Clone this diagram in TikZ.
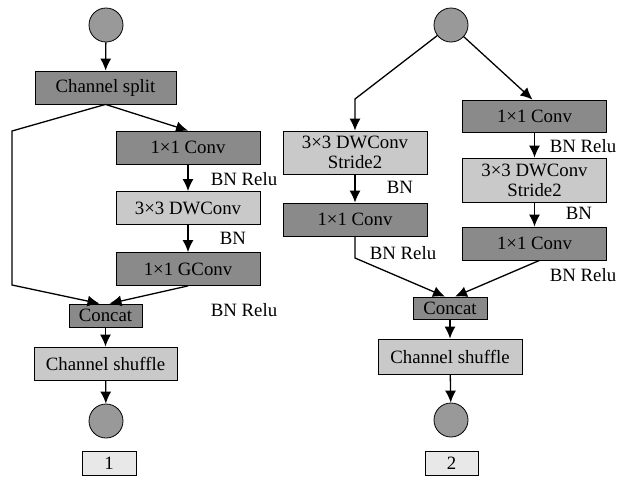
\documentclass[tikz,border=0pt]{standalone}
\usepackage{fontspec}
\setmainfont{Liberation Serif}
\usetikzlibrary{arrows.meta}
\definecolor{darkfill}{gray}{0.54}
\definecolor{lightfill}{gray}{0.79}
\definecolor{dotfill}{gray}{0.60}
\definecolor{tagfill}{gray}{0.91}
\tikzset{
  base/.style={draw=black, line width=0.8pt, inner sep=0pt, align=center,
    font=\rmfamily\fontsize{18.8}{20}\selectfont},
  darkbox/.style={base, fill=darkfill, minimum width=144pt, minimum height=33pt},
  lightbox/.style={base, fill=lightfill, minimum width=144pt, minimum height=33pt},
  tallbox/.style={lightbox, minimum height=44pt},
  catbox/.style={base, fill=darkfill, minimum width=74pt, minimum height=23pt},
  tagbox/.style={base, fill=tagfill, minimum width=54pt, minimum height=24pt},
  dot/.style={circle, draw=black, line width=0.8pt, fill=dotfill, minimum size=34pt, inner sep=0pt},
  note/.style={inner sep=0pt, font=\rmfamily\fontsize{18.8}{20}\selectfont},
  arr/.style={-{Latex[length=12pt,width=11pt]}, line width=1.3pt}
}
\begin{document}
\begin{tikzpicture}[x=1pt, y=-1pt]
\useasboundingbox (0,0) rectangle (628,477);

% ---- block 1 ----
\node[dot] (in1) at (106,25) {};
\node[darkbox, minimum width=141pt] (split) at (105.5,87.5) {Channel split};
\node[darkbox] (c1a) at (188,147.5) {1×1 Conv};
\node[lightbox] (dw1) at (188,208) {3×3 DWConv};
\node[darkbox] (gc1) at (188,269) {1×1 GConv};
\node[catbox, minimum width=73pt] (cat1) at (105.5,315.5) {Concat};
\node[lightbox, minimum width=143pt] (sh1) at (105.5,363.5) {Channel shuffle};
\node[dot] (out1) at (106,421) {};
\node[tagbox] (tag1) at (109,463) {1};

\node[note] (n1a) at (244,179) {BN Relu};
\node[note] (n1b) at (233,238) {BN};
\node[note] (n1c) at (244,310) {BN Relu};

\coordinate (b1) at (12,131);
\coordinate (b2) at (12,285);

\draw[arr] (in1) -- (split);
\draw[arr] (split.south) -- (c1a.north);
\draw[arr] (split.south) -- (b1) -- (b2) -- ([xshift=-6pt]cat1.north);
\draw[arr] (c1a) -- (dw1);
\draw[arr] (dw1) -- (gc1);
\draw[arr] (gc1.south) -- ([xshift=4pt]cat1.north);
\draw[arr] (cat1) -- (sh1);
\draw[arr] (sh1) -- (out1);

% ---- block 2 ----
\node[dot] (in2) at (451,25) {};
\node[tallbox, minimum height=43pt] (dw2l) at (355,152.5) {3×3 DWConv\\Stride2};
\node[darkbox] (c2l) at (355,219.5) {1×1 Conv};
\node[darkbox, minimum height=32pt] (c2a) at (534.5,116) {1×1 Conv};
\node[tallbox] (dw2r) at (534.5,180) {3×3 DWConv\\Stride2};
\node[darkbox] (c2b) at (534.5,243.5) {1×1 Conv};
\node[catbox, minimum height=22pt] (cat2) at (450,308) {Concat};
\node[lightbox, minimum height=35pt] (sh2) at (450,356.5) {Channel shuffle};
\node[dot] (out2) at (451,420) {};
\node[tagbox, minimum width=53pt] (tag2) at (451.5,463) {2};

\node[note] (n2a) at (400,187) {BN};
\node[note] (n2b) at (403,253) {BN Relu};
\node[note] (n2c) at (583,146) {BN Relu};
\node[note] (n2d) at (579,213) {BN};
\node[note] (n2e) at (583,275) {BN Relu};

\coordinate (b3) at (355,99);
\coordinate (b4) at (355,258);

\draw[arr] (in2) -- (b3) -- (dw2l.north);
\draw[arr] (in2) -- ([xshift=-2pt]c2a.north);
\draw[arr] (dw2l) -- (c2l);
\draw[arr] (c2l.south) -- (b4) -- ([xshift=-5pt]cat2.north);
\draw[arr] (c2a) -- (dw2r);
\draw[arr] (dw2r) -- (c2b);
\draw[arr] ([xshift=5pt]c2b.south) -- ([xshift=5pt]cat2.north);
\draw[arr] (cat2) -- (sh2);
\draw[arr] (sh2) -- (out2);
\end{tikzpicture}
\end{document}
